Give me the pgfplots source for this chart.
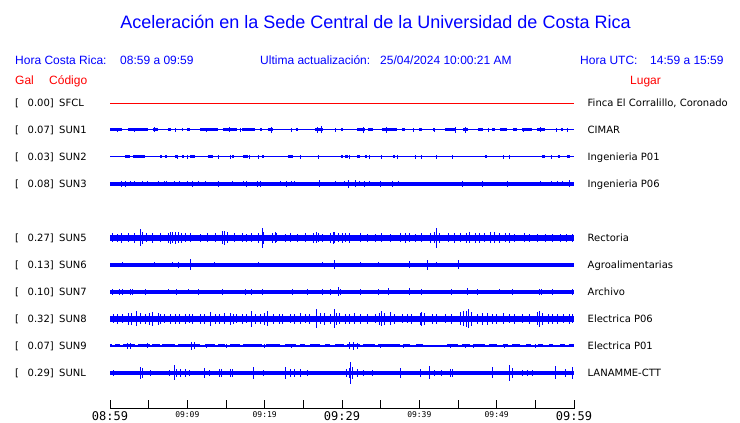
\documentclass[border=0pt]{standalone}
\usepackage{pgfplots}
\usepackage{pgfplotstable}
\pgfplotsset{compat=1.18}
\usepackage{fontspec}
\setmainfont{Liberation Sans}
\newfontfamily\dv{DejaVu Sans}
\newfontfamily\dvm{DejaVu Sans Mono}
\definecolor{tb}{RGB}{0,0,255}
\definecolor{tr}{RGB}{255,0,0}

% spikes: x (minutes after 08:59), a (half amplitude, px)
\pgfplotstableread{
x a
0.26 4.5
0.91 4
1.55 5
2.33 4.5
3.23 5
3.88 8.5
4.14 6
4.78 4.5
5.56 5
6.47 4.5
7.50 5
7.76 6
8.02 5.5
8.41 6
8.92 5.5
9.31 5
9.70 4.5
10.47 4.5
11.64 4
12.67 4.5
13.58 4.5
14.61 6.5
14.87 7
15.13 5.5
16.16 4.5
17.07 4.5
17.59 4
18.36 4.5
19.14 5
19.66 10
19.90 6
20.95 5
21.34 5.5
21.59 4.5
22.63 4
23.28 4.5
24.31 4
25.22 4.5
26.25 5
26.64 5.5
26.90 4.5
27.54 4
28.45 5
28.84 6
29.09 5.5
29.61 4.5
30.00 5
30.39 4.5
31.03 5
32.33 4.5
33.36 4
34.27 4
35.17 4.5
36.21 4
37.50 4.5
38.15 5
38.79 4.5
39.44 4
40.34 4.5
41.38 5
41.90 5.5
42.16 10
42.67 5
43.71 4.5
44.61 5
45.26 4.5
46.16 5
46.55 5.5
47.20 5
47.84 5
48.49 4.5
49.14 5.5
49.78 5.5
50.43 5
51.08 4.5
51.72 5
52.37 4
53.66 4.5
54.31 4
55.22 4
56.25 4
57.28 4
58.19 4
59.09 4
59.87 4
}\sunV

\pgfplotstableread{
x a
0.39 4.5
1.03 5
1.68 4.5
2.33 6
2.84 6
3.49 7.5
3.88 5.5
4.53 5
5.17 6
5.56 7
6.21 6
6.47 5
7.11 4.5
7.76 5
8.41 5
9.05 5
9.70 5
10.34 4.5
10.73 5
11.64 5
12.28 5
13.06 7
13.58 5
14.22 5
14.87 5.5
15.52 6
15.91 5
16.42 4.5
17.07 5
17.59 4.5
18.36 8
18.75 5
19.40 5
20.04 6
20.43 7.5
21.08 5
21.98 5
22.37 5
23.28 4.5
23.92 5
24.57 5.5
25.22 4.5
25.86 5
26.64 9.5
27.16 5.5
27.80 6
28.45 5
28.97 9.5
29.35 6
29.74 5.5
30.39 5
31.03 5
31.68 5.5
32.33 5
33.36 5
34.27 4.5
34.91 6
35.17 7.5
35.56 6
36.21 6.5
36.85 5
37.76 4.5
38.41 4.5
39.05 5
40.09 6
40.34 7
40.73 6
41.64 5
42.28 5
43.32 4.5
44.22 5
45.26 6.5
45.65 7.5
46.16 8
46.42 9.5
46.81 7
47.46 5
48.23 6
48.75 6
49.40 5
50.04 5
50.82 5.5
51.72 4.5
52.37 5
53.28 4.5
54.31 5
55.22 6.5
55.60 8
55.99 6
56.64 5
57.28 5
57.93 5
58.58 4.5
59.48 5
59.87 4.5
}\sunVIII

\pgfplotstableread{
x a
1.68 2.5
5.69 2.5
8.02 2.5
8.92 3
10.47 5.5
13.45 2.5
15.52 2
19.14 2.5
19.40 2
21.98 2
24.96 2
27.54 2.5
28.97 4.5
32.33 2.5
34.66 2.5
36.47 2
38.79 3.5
41.12 5
42.28 2.5
45.00 4.5
53.92 2
}\sunVI

\pgfplotstableread{
x a
0.26 3
1.29 3
1.68 3
2.59 3
2.97 3
4.53 3
7.50 2.5
8.66 3
10.09 2.5
11.38 3
14.61 3
17.46 3
18.36 3
19.66 3
23.66 3
25.60 3
27.54 3
28.45 3
29.61 4.5
29.87 3
32.33 3
34.66 3
35.95 3.5
38.79 3.5
40.34 3
44.22 3
46.29 3.5
47.46 3
50.43 2.5
52.11 3
55.60 3
55.86 3
57.28 3
59.87 3
}\sunVII

\pgfplotstableread{
x a
0.39 3
3.88 6
4.14 5
5.30 3
7.63 3
8.28 7.5
8.66 4
9.18 4
9.70 4
10.34 3
12.16 5
12.93 3
14.22 4
14.48 4
15.52 4
15.78 4
18.62 6
19.79 3
22.63 6
23.28 4
23.92 4
24.57 4
25.60 3
30.52 4
31.03 5
31.16 11
31.42 6
31.94 4
32.84 3
33.88 3
37.50 5
40.09 4
41.25 6.5
41.90 3
42.93 3
43.97 4
44.35 4
49.40 5.5
51.72 8
52.11 5
53.28 3
54.05 3
54.57 3
57.67 6.5
58.84 4
59.87 6
}\sunL

\pgfplotstableread{
x a
1.55 3
1.94 3
2.59 2.5
3.23 2.5
4.14 2.5
4.91 2.5
6.21 2.5
6.99 2.5
7.37 2.5
8.28 2.5
9.05 2.5
9.96 2.5
10.73 3
11.38 2.5
12.41 2.5
13.97 3
15.78 2.5
17.20 2.5
17.59 3
19.01 3
19.40 3
22.11 2.5
22.76 3
23.41 2.5
23.92 2.5
27.03 3.5
29.22 2.5
30.26 2.5
30.78 4
31.81 3.5
32.20 2.5
32.97 3
33.62 2.5
35.04 3
36.59 3
37.37 2.5
45.52 3
48.23 3
51.34 3
55.73 2.5
57.15 2.5
57.93 2.5
58.45 2.5
59.48 3.5
}\sunIII

\pgfplotstableread{
x a
1.0 2
3.2 2
5.69 2.5
8.41 2
12.5 2
15.39 2.5
16.9 2
20.82 3
23.5 2
26.77 3
27.29 3.5
29.2 2
32.84 3
35.69 3
39.2 2
41.90 2
44.74 3
46.03 3
49.0 2
53.5 2
55.73 2.5
57.7 2
59.2 2
}\sunI

\pgfplotstableread{
a b
0 1.55
2.33 4.91
5.56 6.21
7.5 7.9
9.3 9.5
10.0 10.3
11.64 13.97
14.61 16.42
17.07 18.75
19.4 19.7
20.43 21.08
24.0 24.3
26.51 27.54
29.9 30.1
31.94 32.97
33.36 34.01
35.17 37.11
37.76 38.15
40.0 40.3
41.8 42.0
43.32 44.61
45.65 46.29
47.59 48.23
49.40 49.78
50.43 51.34
52.11 52.63
53.28 54.57
55.22 56.25
58.3 58.6
}\segI

\pgfplotstableread{
x a
8.79 2
9.96 2
13.97 2
15.52 2
18.10 2
19.14 2
24.57 2
26.90 2
31.03 2
33.62 2
35.17 2
37.24 2
39.44 2
40.34 2
42.16 2
44.35 2
50.82 2
51.72 2
57.15 2
}\sunII

\pgfplotstableread{
a b
1.94 2.59
2.97 4.53
6.47 6.72
7.11 7.37
8.41 8.66
9.31 9.57
10.34 10.99
12.67 13.32
15.78 16.04
17.20 17.85
19.66 19.91
23.02 23.66
29.87 30.13
30.39 30.78
31.94 32.33
32.97 33.23
36.59 36.85
48.49 48.75
55.86 56.25
57.93 58.19
59.09 59.48
}\segII

\pgfplotstableread{
x a
2.3 3
2.6 3
4.8 2.5
10.6 4
10.9 3.5
12.5 2
15.0 2
20.0 2
23.5 1.8
31.0 3.5
31.5 4
32.0 3
35.0 2
38.0 2
44.0 2
46.0 2
47.0 2
51.0 2
55.0 2
}\sunIX

\pgfplotstableread{
a b
0 0.3
0.65 1.3
1.7 3.2
3.6 5.2
5.4 6.5
6.7 8.4
8.8 11.6
12.3 13.6
14.0 14.9
15.5 16.8
17.2 19.7
20.2 22.0
22.6 24.1
24.6 25.2
25.9 27.2
27.8 28.4
29.1 30.3
30.6 32.3
32.7 34.3
34.7 37.5
38.0 38.8
39.6 40.5
43.6 45.0
45.5 46.5
47.0 48.5
49.0 50.0
50.8 51.5
52.0 53.0
53.8 54.5
55.3 56.0
56.8 57.3
58.2 58.8
59.3 60
}\segIX

\pgfplotsset{
  spikes/.style={draw=none, mark=none, forget plot,
    error bars/.cd, y dir=both, y explicit, error mark=none,
    error bar style={draw=tb, line width=1pt}},
  segs/.style={draw=none, mark=none, forget plot,
    error bars/.cd, x dir=plus, x explicit, error mark=none,
    error bar style={draw=tb, line width=#1}},
}

\newcommand{\lab}[4]{%
  \node[anchor=base west, inner sep=0pt, font=\dv\fontsize{10}{12}\selectfont] at (15pt,#1pt) {[};
  \node[anchor=base west, inner sep=0pt, font=\dv\fontsize{10}{12}\selectfont] at (27.5pt,#1pt) {#2]};
  \node[anchor=base west, inner sep=0pt, font=\dv\fontsize{10}{12}\selectfont] at (59pt,#1pt) {#3};
  \node[anchor=base west, inner sep=0pt, font=\dv\fontsize{10}{12}\selectfont] at (587.5pt,#1pt) {#4};}

\begin{document}
\begin{tikzpicture}
\begin{axis}[
  at={(110pt,14pt)}, anchor=south west,
  scale only axis, width=464pt, height=319pt,
  xmin=0, xmax=60, ymin=14, ymax=333,
  axis x line*=bottom, axis y line=none,
  x axis line style={-, line width=1pt, black},
  xtick={0,5,...,60},
  xticklabels={{\fontsize{12}{14}\selectfont 08:59},{},{\fontsize{8}{10}\selectfont 09:09},{},{\fontsize{8}{10}\selectfont 09:19},{},{\fontsize{12}{14}\selectfont 09:29},{},{\fontsize{8}{10}\selectfont 09:39},{},{\fontsize{8}{10}\selectfont 09:49},{},{\fontsize{12}{14}\selectfont 09:59}},
  tick align=inside, major tick length=8.7pt,
  xtick style={black, line width=1pt},
  ytick=\empty,
  xticklabel style={font=\dvm, anchor=north, inner sep=0pt, yshift=-2.5pt},
  clip=false,
]
% SFCL
\addplot[tr, line width=0.9pt, forget plot] coordinates {(0,320) (60,320)};
% SUN1
\addplot[tb, line width=1pt, forget plot] coordinates {(0,293) (60,293)};
\addplot[segs=3pt] table[x=a, y expr=293, x error expr=\thisrow{b}-\thisrow{a}] {\segI};
\addplot[spikes] table[x=x, y expr=293, y error=a] {\sunI};
% SUN2
\addplot[tb, line width=1pt, forget plot] coordinates {(0,266) (60,266)};
\addplot[segs=3pt] table[x=a, y expr=266, x error expr=\thisrow{b}-\thisrow{a}] {\segII};
\addplot[spikes] table[x=x, y expr=266, y error=a] {\sunII};
% SUN3
\addplot[tb, line width=3.6pt, forget plot] coordinates {(0,239) (60,239)};
\addplot[spikes] table[x=x, y expr=239, y error=a] {\sunIII};
% SUN5
\addplot[tb, line width=6.6pt, forget plot] coordinates {(0,185) (60,185)};
\addplot[spikes] table[x=x, y expr=185, y error=a] {\sunV};
% SUN6
\addplot[tb, line width=3.4pt, forget plot] coordinates {(0,158) (60,158)};
\addplot[spikes] table[x=x, y expr=158, y error=a] {\sunVI};
% SUN7
\addplot[tb, line width=3.2pt, forget plot] coordinates {(0,131) (60,131)};
\addplot[spikes] table[x=x, y expr=131, y error=a] {\sunVII};
% SUN8
\addplot[tb, line width=6.6pt, forget plot] coordinates {(0,104) (60,104)};
\addplot[spikes] table[x=x, y expr=104, y error=a] {\sunVIII};
% SUN9
\addplot[tb, line width=1.3pt, forget plot] coordinates {(0,77) (60,77)};
\addplot[segs=3pt] table[x=a, y expr=77, x error expr=\thisrow{b}-\thisrow{a}] {\segIX};
\addplot[spikes] table[x=x, y expr=77, y error=a] {\sunIX};
% SUNL
\addplot[tb, line width=3.4pt, forget plot] coordinates {(0,50) (60,50)};
\addplot[spikes] table[x=x, y expr=50, y error=a] {\sunL};
\end{axis}

% titles and header
\node[tb, inner sep=0pt, font=\fontsize{18}{20}\selectfont] at (375.5pt,401pt) {Aceleración en la Sede Central de la Universidad de Costa Rica};
\begin{scope}[every node/.style={anchor=base west, inner sep=0pt, font=\fontsize{12}{14}\selectfont}]
\node[tb] at (15pt,358.7pt) {Hora Costa Rica:};
\node[tb] at (120pt,358.7pt) {08:59 a 09:59};
\node[tb] at (260pt,358.7pt) {Ultima actualización:};
\node[tb] at (380pt,358.7pt) {25/04/2024 10:00:21 AM};
\node[tb] at (580pt,358.7pt) {Hora UTC:};
\node[tb] at (650pt,358.7pt) {14:59 a 15:59};
\node[tr] at (15pt,338.7pt) {Gal};
\node[tr] at (49pt,338.7pt) {Código};
\node[tr] at (630pt,338.7pt) {Lugar};
\end{scope}

\lab{316.4}{0.00}{SFCL}{Finca El Corralillo, Coronado}
\lab{289.4}{0.07}{SUN1}{CIMAR}
\lab{262.4}{0.03}{SUN2}{Ingenieria P01}
\lab{235.4}{0.08}{SUN3}{Ingenieria P06}
\lab{181.4}{0.27}{SUN5}{Rectoria}
\lab{154.4}{0.13}{SUN6}{Agroalimentarias}
\lab{127.4}{0.10}{SUN7}{Archivo}
\lab{100.4}{0.32}{SUN8}{Electrica P06}
\lab{73.4}{0.07}{SUN9}{Electrica P01}
\lab{46.4}{0.29}{SUNL}{LANAMME-CTT}

\pgfresetboundingbox
\path[use as bounding box] (0,0) rectangle (740pt,423pt);
\end{tikzpicture}
\end{document}
